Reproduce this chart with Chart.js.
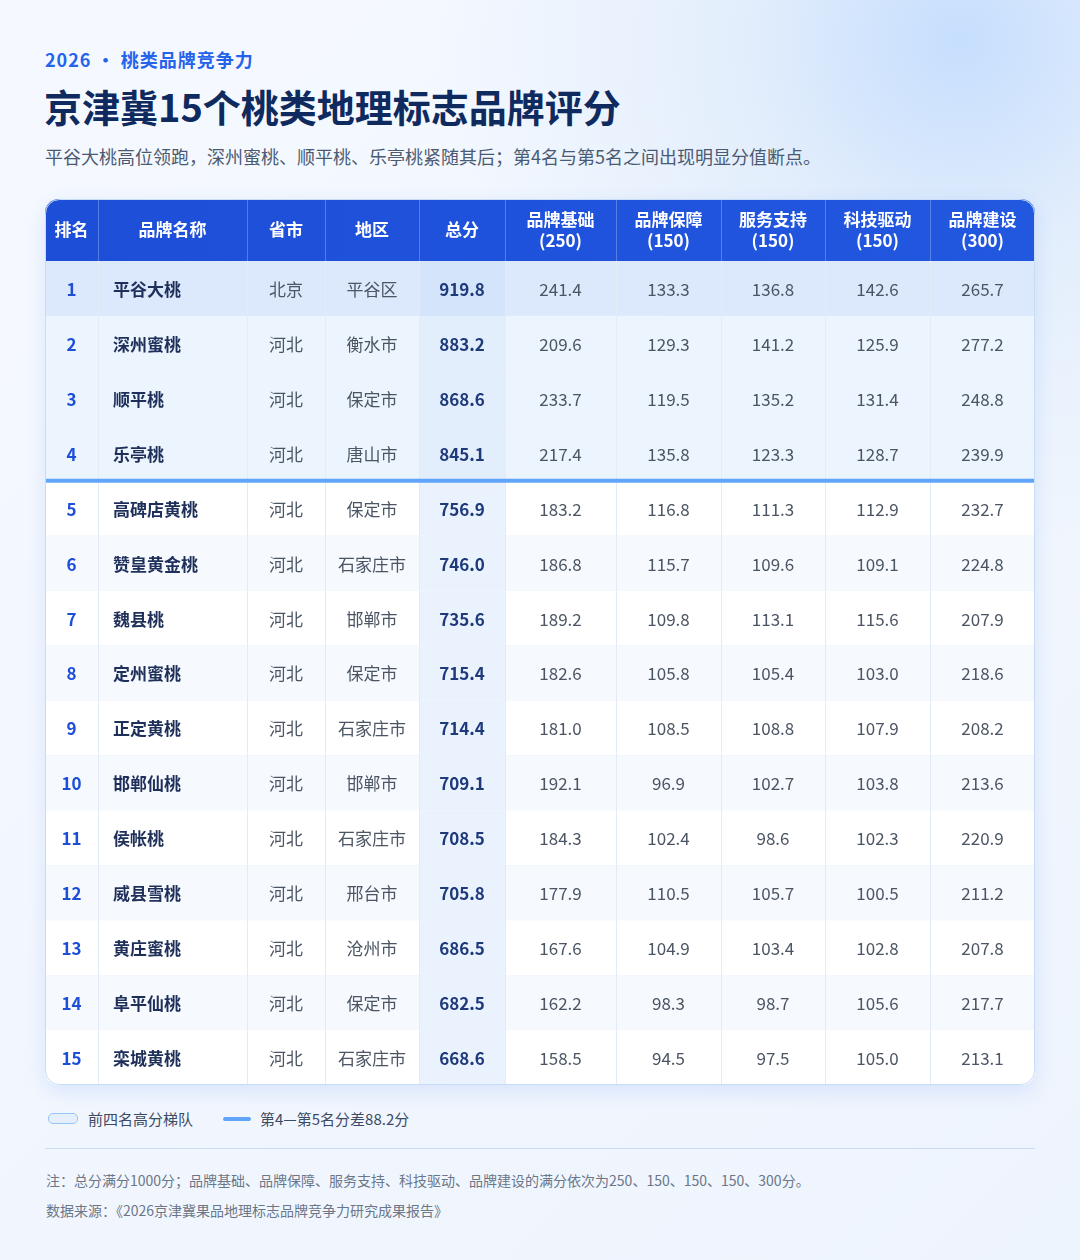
<!DOCTYPE html>
<html><head><meta charset="utf-8">
<script src="https://cdn.jsdelivr.net/npm/chart.js@4"></script>
<style>
body{margin:0;width:1080px;height:1260px;font-family:"Noto Sans CJK SC","Noto Sans",sans-serif;background:radial-gradient(circle at 960px 40px,#c6defd 0,#e3eefc 220px,rgba(240,246,255,0) 520px),linear-gradient(135deg,#f5f9ff,#eef4fd);position:relative;overflow:hidden}
.k{position:absolute;left:45px;top:46px;font-size:18px;font-weight:700;color:#2563eb;letter-spacing:1px}
.t{position:absolute;left:44px;top:78px;font-size:38px;font-weight:700;color:#0f2a5e}
.s{position:absolute;left:45px;top:143px;font-size:18px;color:#4b5a73}
#wrap{position:absolute;left:45px;top:199px;width:990px;height:886px;border-radius:14px;box-shadow:0 6px 20px rgba(37,99,235,.12);background:#fff}
.lg{position:absolute;top:1108px;font-size:15px;color:#3c4a63;display:flex;align-items:center}
.hr{position:absolute;left:45px;width:990px;top:1148px;border-top:1px solid #c9dcf5}
.n{position:absolute;left:46px;font-size:14px;color:#6b7689}
</style></head><body>
<div class="k">2026 • 桃类品牌竞争力</div>
<div class="t">京津冀15个桃类地理标志品牌评分</div>
<div class="s">平谷大桃高位领跑，深州蜜桃、顺平桃、乐亭桃紧随其后；第4名与第5名之间出现明显分值断点。</div>
<div id="wrap"><canvas id="c" width="990" height="886" style="width:990px;height:886px"></canvas></div>
<div class="lg" style="left:48px"><span style="display:inline-block;width:28px;height:9px;border:1px solid #93c5fd;background:#e6f0fd;border-radius:5px;margin-right:10px"></span>前四名高分梯队</div>
<div class="lg" style="left:223px"><span style="display:inline-block;width:28px;height:4px;background:#60a5fa;border-radius:2px;margin-right:9px"></span>第4—第5名分差88.2分</div>
<div class="hr"></div>
<div class="n" style="top:1170px">注：总分满分1000分；品牌基础、品牌保障、服务支持、科技驱动、品牌建设的满分依次为250、150、150、150、300分。</div>
<div class="n" style="top:1200px">数据来源：《2026京津冀果品地理标志品牌竞争力研究成果报告》</div>
<script>
const ranks=["1","2","3","4","5","6","7","8","9","10","11","12","13","14","15"];
const names=["平谷大桃","深州蜜桃","顺平桃","乐亭桃","高碑店黄桃","赞皇黄金桃","魏县桃","定州蜜桃","正定黄桃","邯郸仙桃","侯帐桃","威县雪桃","黄庄蜜桃","阜平仙桃","栾城黄桃"];
const provinces=["北京","河北","河北","河北","河北","河北","河北","河北","河北","河北","河北","河北","河北","河北","河北"];
const regions=["平谷区","衡水市","保定市","唐山市","保定市","石家庄市","邯郸市","保定市","石家庄市","邯郸市","石家庄市","邢台市","沧州市","保定市","石家庄市"];
const totals=[919.8,883.2,868.6,845.1,756.9,746.0,735.6,715.4,714.4,709.1,708.5,705.8,686.5,682.5,668.6];
const base=[241.4,209.6,233.7,217.4,183.2,186.8,189.2,182.6,181.0,192.1,184.3,177.9,167.6,162.2,158.5];
const guarantee=[133.3,129.3,119.5,135.8,116.8,115.7,109.8,105.8,108.5,96.9,102.4,110.5,104.9,98.3,94.5];
const service=[136.8,141.2,135.2,123.3,111.3,109.6,113.1,105.4,108.8,102.7,98.6,105.7,103.4,98.7,97.5];
const tech=[142.6,125.9,131.4,128.7,112.9,109.1,115.6,103.0,107.9,103.8,102.3,100.5,102.8,105.6,105.0];
const build=[265.7,277.2,248.8,239.9,232.7,224.8,207.9,218.6,208.2,213.6,220.9,211.2,207.8,217.7,213.1];
const headers=[["排名"],["品牌名称"],["省市"],["地区"],["总分"],["品牌基础","(250)"],["品牌保障","(150)"],["服务支持","(150)"],["科技驱动","(150)"],["品牌建设","(300)"]];
const edges=[0,53,202,280,374,460,571,676,780,885,990];
const cols=[ranks,names,provinces,regions,totals.map(v=>v.toFixed(1)),base.map(v=>v.toFixed(1)),guarantee.map(v=>v.toFixed(1)),service.map(v=>v.toFixed(1)),tech.map(v=>v.toFixed(1)),build.map(v=>v.toFixed(1))];
const F='"Noto Sans CJK SC","Noto Sans",sans-serif';
const table={id:'table',afterDraw(ch){
 const c=ch.ctx,x=ch.scales.x,y=ch.scales.y,W=ch.width,H=ch.height;
 c.save();
 c.beginPath();c.roundRect(0,0,W,H,14);c.clip();
 c.fillStyle='#fff';c.fillRect(0,0,W,H);
 const hb=y.top;
 const g=c.createLinearGradient(0,0,W,0);g.addColorStop(0,'#1d4ed8');g.addColorStop(1,'#2257e0');
 c.fillStyle=g;c.fillRect(0,0,W,hb);
 const rh=y.getPixelForValue(1)-y.getPixelForValue(0);
 ranks.forEach((r,i)=>{
  const yc=y.getPixelForValue(i),t=yc-rh/2;
  c.fillStyle=i==0?'#dce9fc':i<4?'#ecf4fe':(i%2?'#f6f9fe':'#fff');
  c.fillRect(0,t,W,rh);
  c.fillStyle=i==0?'#d3e4fb':i<4?'#e3eefd':'#eaf2fd';
  c.fillRect(x.getPixelForValue(edges[4]),t,x.getPixelForValue(edges[5])-x.getPixelForValue(edges[4]),rh);
  c.strokeStyle='#e3ebf6';c.lineWidth=1;c.beginPath();c.moveTo(0,t+rh+.5);c.lineTo(W,t+rh+.5);c.stroke();
 });
 for(let k=1;k<edges.length-1;k++){const px=Math.round(x.getPixelForValue(edges[k]))+.5;
  c.strokeStyle='rgba(255,255,255,.25)';c.beginPath();c.moveTo(px,0);c.lineTo(px,hb);c.stroke();
  c.strokeStyle='#e3ebf6';c.beginPath();c.moveTo(px,hb);c.lineTo(px,H);c.stroke();}
 const dy=(y.getPixelForValue(3)+y.getPixelForValue(4))/2;
 c.fillStyle='#60a5fa';c.fillRect(0,dy-2,W,4);
 c.textAlign='center';c.textBaseline='middle';c.fillStyle='#fff';c.font='700 17px '+F;
 headers.forEach((h,k)=>{const cx=x.getPixelForValue((edges[k]+edges[k+1])/2);
  if(h.length==1)c.fillText(h[0],cx,hb/2);else{c.fillText(h[0],cx,hb/2-10);c.fillText(h[1],cx,hb/2+11);}});
 cols.forEach((col,k)=>col.forEach((v,i)=>{const yc=y.getPixelForValue(i);
  let cx=x.getPixelForValue((edges[k]+edges[k+1])/2);c.textAlign='center';
  if(k==0){c.font='700 17px '+F;c.fillStyle='#1d4ed8';}
  else if(k==1){c.font='700 17px '+F;c.fillStyle='#1e2f5a';c.textAlign='left';cx=x.getPixelForValue(edges[1])+15;}
  else if(k==4){c.font='700 17px '+F;c.fillStyle='#1e3a7a';}
  else{c.font='400 17px '+F;c.fillStyle='#4b5563';}
  c.fillText(v,cx,yc+1);}));
 c.restore();
 c.strokeStyle='#c9dcf5';c.lineWidth=1;c.beginPath();c.roundRect(.5,.5,W-1,H-1,14);c.stroke();
}};
new Chart(document.getElementById('c'),{type:'bar',data:{labels:ranks,datasets:[{data:totals,hidden:true}]},
options:{responsive:false,animation:false,devicePixelRatio:1,layout:{padding:{top:62}},
plugins:{legend:{display:false},tooltip:{enabled:false}},
indexAxis:'y',
scales:{x:{type:'linear',min:0,max:990,display:false},y:{type:'category',offset:true,display:false}}},
plugins:[table]});
</script>
</body></html>
